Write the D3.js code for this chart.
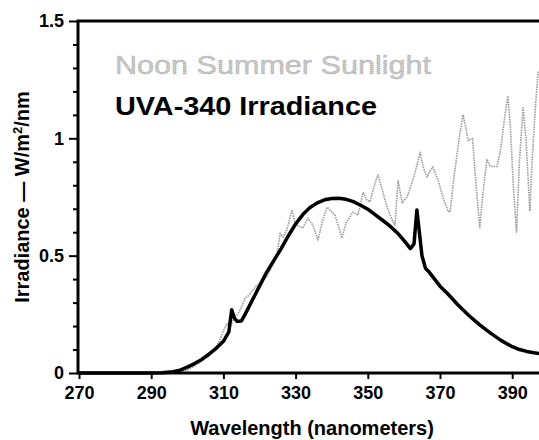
<!DOCTYPE html>
<html>
<head>
<meta charset="utf-8">
<script src="https://cdn.jsdelivr.net/npm/d3@7"></script>
<style>
  body { margin: 0; background: #fff; }
  svg { display: block; overflow: hidden; }
  text { font-family: "Liberation Sans", Arial, Helvetica, sans-serif; }
</style>
</head>
<body>
<script>

// UVA-340 lamp spectrum (nm, W/m2/nm)
var uvaWavelength = [270, 290, 293, 296, 298, 300, 302, 304, 306, 308, 310, 311.5, 312.3, 313, 313.8, 315, 316, 318, 320, 322, 324, 326, 328, 330, 332, 334, 336, 338, 340, 342, 344, 346, 348, 350, 352, 354, 356, 358, 360, 361.8, 362.8, 363.6, 365, 366, 367, 370, 372, 375, 378, 381, 384, 387, 390, 392, 394, 396, 398, 400];
var uvaIrradiance = [0, 0, 0.001, 0.005, 0.012, 0.025, 0.04, 0.058, 0.08, 0.105, 0.135, 0.175, 0.27, 0.235, 0.22, 0.222, 0.25, 0.31, 0.37, 0.43, 0.48, 0.53, 0.585, 0.635, 0.675, 0.705, 0.725, 0.738, 0.744, 0.745, 0.74, 0.73, 0.715, 0.698, 0.675, 0.652, 0.628, 0.6, 0.565, 0.53, 0.55, 0.695, 0.5, 0.445, 0.43, 0.37, 0.34, 0.29, 0.245, 0.205, 0.17, 0.138, 0.112, 0.1, 0.092, 0.086, 0.082, 0.078];

// noon summer sunlight spectrum
var sunWavelength = [296, 298, 300, 302, 304, 306, 307, 308, 309, 310, 311, 312, 313, 314, 315, 316, 317, 318, 319, 320, 321, 322, 323, 324, 325, 325.7, 326.5, 327.6, 328.4, 329, 329.8, 330.5, 332, 333.4, 334.8, 336.2, 337.5, 338.7, 339.8, 340.9, 342, 342.8, 344, 345.9, 347.3, 348.7, 349.6, 350.6, 351.8, 352.8, 354, 355.3, 356.5, 357.5, 358.4, 359.5, 360.9, 362, 363, 364.5, 365.3, 366.4, 367.2, 368, 369.5, 371, 372.2, 372.8, 374, 375.5, 376.4, 377.2, 377.8, 379, 380, 381, 382, 383, 384, 385.8, 386.8, 388, 388.8, 389.5, 390.3, 391.2, 392, 393, 393.8, 394.9, 395.5, 396.5, 397.2, 398];
var sunIrradiance = [0, 0.004, 0.012, 0.03, 0.05, 0.075, 0.09, 0.11, 0.14, 0.18, 0.21, 0.2, 0.24, 0.25, 0.28, 0.32, 0.33, 0.35, 0.37, 0.38, 0.4, 0.41, 0.44, 0.47, 0.52, 0.595, 0.58, 0.61, 0.66, 0.695, 0.64, 0.63, 0.617, 0.66, 0.63, 0.567, 0.65, 0.707, 0.69, 0.673, 0.62, 0.575, 0.64, 0.686, 0.673, 0.77, 0.74, 0.729, 0.8, 0.845, 0.78, 0.71, 0.66, 0.63, 0.82, 0.725, 0.75, 0.8, 0.85, 0.94, 0.88, 0.835, 0.86, 0.878, 0.82, 0.74, 0.69, 0.686, 0.85, 1.02, 1.1, 1.04, 0.99, 1.0, 0.8, 0.62, 0.78, 0.91, 0.88, 0.88, 0.95, 1.1, 1.18, 1.05, 0.8, 0.6, 0.9, 1.13, 1.0, 0.69, 0.9, 1.15, 1.28, 1.3];

var xTicks = [270, 290, 310, 330, 350, 370, 390];
var yTicks = [0, 0.5, 1, 1.5];
var yMinorTicks = [0.1, 0.2, 0.3, 0.4, 0.6, 0.7, 0.8, 0.9, 1.1, 1.2, 1.3, 1.4];

var width = 539,
    height = 440,
    margin = {top: 21, left: 78, bottom: 67};

var svg = d3.select("body").append("svg")
    .attr("width", width)
    .attr("height", height);

// x runs past the right edge of the picture
var x = d3.scaleLinear().domain([270, 400]).range([margin.left + 1, margin.left + 1 + 130 * 3.61]);
var y = d3.scaleLinear().domain([0, 1.5]).range([height - margin.bottom, margin.top]);

var line = d3.line()
    .x(function(d) { return x(d[0]); })
    .y(function(d) { return y(d[1]); });

var sunData = d3.zip(sunWavelength, sunIrradiance);
var uvaData = d3.zip(uvaWavelength, uvaIrradiance);

// sunlight - grey stippled line
svg.append("path")
    .datum(sunData)
    .attr("fill", "none")
    .attr("stroke", "#999")
    .attr("stroke-width", 1.6)
    .attr("stroke-dasharray", "1.5,1")
    .attr("stroke-linejoin", "round")
    .attr("d", line);

// uva-340 lamp
svg.append("path")
    .datum(uvaData)
    .attr("fill", "none")
    .attr("stroke", "#000")
    .attr("stroke-width", 3.5)
    .attr("stroke-linejoin", "round")
    .attr("d", line);

// axes
var xAxis = svg.append("g")
    .attr("transform", "translate(0," + y(0) + ")")
    .call(d3.axisBottom(x).tickValues(xTicks).tickSize(6).tickPadding(7).tickFormat(d3.format("d")));

var yAxis = svg.append("g")
    .attr("transform", "translate(" + margin.left + ",0)")
    .call(d3.axisLeft(y).tickValues(yTicks).tickSize(9).tickPadding(5).tickFormat(function(d) { return d; }));

var yMinor = svg.append("g")
    .attr("transform", "translate(" + margin.left + ",0)")
    .call(d3.axisLeft(y).tickValues(yMinorTicks).tickSize(5).tickFormat(""));

[xAxis, yAxis, yMinor].forEach(function(g) {
  g.select(".domain").remove();
  g.selectAll(".tick line").attr("stroke", "#000").attr("stroke-width", 2);
  g.selectAll(".tick text")
      .attr("fill", "#000")
      .style("font-size", "18px")
      .style("font-weight", "bold");
});

// axis lines plus top frame
svg.append("path")
    .attr("fill", "none")
    .attr("stroke", "#000")
    .attr("stroke-width", 3)
    .attr("d", "M" + width + "," + y(1.5) + "H" + margin.left + "V" + y(0) + "H" + width);

// series labels
svg.append("text")
    .attr("x", 115)
    .attr("y", 74)
    .attr("textLength", 316)
    .attr("lengthAdjust", "spacingAndGlyphs")
    .attr("fill", "#c8c8c8")
    .attr("stroke", "#9a9a9a")
    .attr("stroke-width", 0.6)
    .attr("stroke-dasharray", "1,1")
    .style("font-size", "26px")
    .text("Noon Summer Sunlight");

svg.append("text")
    .attr("x", 115)
    .attr("y", 115)
    .attr("textLength", 262)
    .attr("lengthAdjust", "spacingAndGlyphs")
    .attr("fill", "#000")
    .style("font-size", "25px")
    .style("font-weight", "bold")
    .text("UVA-340 Irradiance");

// axis titles
svg.append("text")
    .attr("x", 312)
    .attr("y", 435)
    .attr("text-anchor", "middle")
    .style("font-size", "20px")
    .style("font-weight", "bold")
    .text("Wavelength (nanometers)");

var yTitle = svg.append("text")
    .attr("transform", "translate(29,197) rotate(-90)")
    .attr("text-anchor", "middle")
    .style("font-size", "20px")
    .style("font-weight", "bold");
yTitle.append("tspan").text("Irradiance \u2014 W/m");
yTitle.append("tspan").attr("dy", -7).style("font-size", "13px").text("2");
yTitle.append("tspan").attr("dy", 7).text("/nm");

</script>
</body>
</html>
